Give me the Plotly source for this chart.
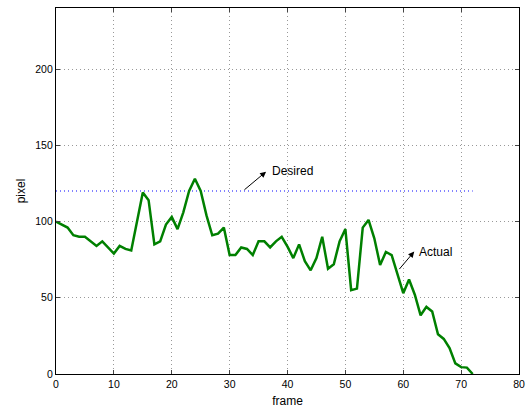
import plotly.graph_objects as go

frames = list(range(0, 73))
actual = [100, 98, 96, 91, 90, 90, 87, 84, 87, 83,
          79, 84, 82, 81, 100, 119, 114, 85, 87, 98,
          103, 95, 106, 120, 128, 120, 104, 91, 92, 96,
          78, 78, 83, 82, 78, 87, 87, 83, 87, 90,
          83.5, 76, 85, 74, 68, 76, 90, 69, 72, 87,
          95, 55, 56, 96, 101, 89, 71.5, 80, 78, 65,
          53, 62, 52, 38.5, 44, 41, 26, 23, 17, 7,
          4.5, 4.2, 0]
desired_x = [0, 72]
desired_y = [120, 120]

x_ticks = [0, 10, 20, 30, 40, 50, 60, 70, 80]
y_ticks = [0, 50, 100, 150, 200]

fig = go.Figure()
fig.add_trace(go.Scatter(x=desired_x, y=desired_y, mode="lines",
                         line=dict(color="rgb(90,90,255)", width=1.4, dash="1px,3px"),
                         showlegend=False))
fig.add_trace(go.Scatter(x=frames, y=actual, mode="lines",
                         line=dict(color="#008000", width=2.5),
                         showlegend=False))

font = dict(family="Liberation Sans, Arial, sans-serif", color="#000")

fig.add_annotation(x=36.3, y=132.7, ax=32.3, ay=120, xref="x", yref="y",
                   axref="x", ayref="y", text="", showarrow=True,
                   arrowhead=2, arrowsize=1.2, arrowwidth=1, arrowcolor="black")
fig.add_annotation(x=36.9, y=133, text="Desired", showarrow=False,
                   xanchor="left", yanchor="middle", font=dict(size=12, **font))
fig.add_annotation(x=61.9, y=80.3, ax=59.1, ay=67.8, xref="x", yref="y",
                   axref="x", ayref="y", text="", showarrow=True,
                   arrowhead=2, arrowsize=1.2, arrowwidth=1, arrowcolor="black")
fig.add_annotation(x=62.4, y=80.3, text="Actual", showarrow=False,
                   xanchor="left", yanchor="middle", font=dict(size=12, **font))

axis_common = dict(showline=True, linecolor="black", linewidth=1.3, mirror="ticks",
                   ticks="inside", ticklen=4, tickcolor="#444", tickwidth=1,
                   showgrid=True, gridcolor="#999", griddash="1px,3px", gridwidth=1,
                   zeroline=False, automargin=False, tickfont=dict(size=10.5, **font))

fig.update_xaxes(range=[0, 80], tickvals=x_ticks, ticktext=[str(v) for v in x_ticks],
                 title=dict(text="frame", font=dict(size=12, **font), standoff=7),
                 **axis_common)
fig.update_yaxes(range=[0, 240], tickvals=y_ticks, ticktext=[str(v) for v in y_ticks],
                 title=dict(text="pixel", font=dict(size=12, **font), standoff=7),
                 **axis_common)

fig.update_layout(width=526, height=410, margin=dict(l=56, r=7, t=8, b=36),
                  plot_bgcolor="white", paper_bgcolor="white")

fig.write_html("out.html")
